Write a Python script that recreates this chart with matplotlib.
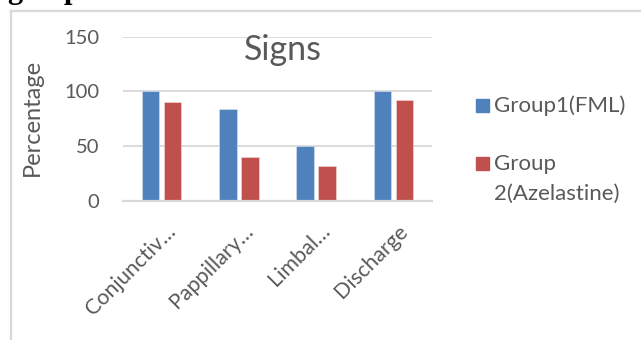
import matplotlib
matplotlib.use("Agg")
import matplotlib.pyplot as plt
from matplotlib.patches import Rectangle
from matplotlib.lines import Line2D
from matplotlib.transforms import ScaledTranslation, blended_transform_factory
import numpy as np

categories = ["Conjunctiv…", "Pappillary…", "Limbal…", "Discharge"]
series_names = ["Group1(FML)", "Group\n2(Azelastine)"]
group1_fml = [100, 84, 50, 100]
group2_azelastine = [90, 40, 32, 92]
colors = ["#4F81BD", "#C0504D"]
y_ticks = [0, 50, 100, 150]
title = "Signs"
y_label = "Percentage"

W, H = 641, 340
FONT = ["Lato", "DejaVu Sans"]
TEXT = "#595959"
GRID = "#D9D9D9"


def fx(px):
    return px / W


def fy(py):
    return 1 - py / H


fig = plt.figure(figsize=(W / 100, H / 100), dpi=100)
fig.patch.set_facecolor("white")

# page heading above the chart frame, cut off by the top edge
fig.text(fx(7), fy(-2), "g", family="Liberation Serif", weight="bold",
         fontsize=22, color="black", va="baseline", ha="left")
fig.text(fx(64), fy(-2), "p", family="Liberation Serif", weight="bold",
         fontsize=22, color="black", va="baseline", ha="left")

# chart frame (left and top borders visible)
fig.add_artist(Line2D([fx(11), fx(11)], [fy(11), fy(H + 5)], color=GRID,
                      lw=1.6, transform=fig.transFigure))
fig.add_artist(Line2D([fx(11), fx(W + 5)], [fy(11), fy(11)], color=GRID,
                      lw=1.6, transform=fig.transFigure))

ax = fig.add_axes([fx(123), fy(201), fx(432) - fx(123), fy(36.5) - fy(201)])
x = np.arange(len(categories))
bw = 0.227
off = 0.1435
ax.bar(x - off, group1_fml, bw, color=colors[0], edgecolor="#dce6f2",
       linewidth=0.4, zorder=3)
ax.bar(x + off, group2_azelastine, bw, color=colors[1], edgecolor="#f2dcdb",
       linewidth=0.4, zorder=3)

ax.set_xlim(-0.5, len(categories) - 0.5)
ax.set_ylim(0, 150)
ax.set_yticks(y_ticks)
ax.set_yticklabels([str(t) for t in y_ticks], family=FONT, fontsize=14.5,
                   color=TEXT)
ax.tick_params(axis="y", length=0, pad=17)
ax.tick_params(axis="x", length=0)
ax.set_xticks(x)
ax.set_xticklabels([])
ax.yaxis.grid(True, color=GRID, lw=1.3, zorder=0)
for s in ["left", "right", "top"]:
    ax.spines[s].set_visible(False)
ax.spines["bottom"].set_color(GRID)
ax.spines["bottom"].set_linewidth(1.6)
ax.spines["bottom"].set_zorder(4)

# rotated category labels
trans = blended_transform_factory(ax.transData, ax.transAxes)
shift = ScaledTranslation(4 / 100, -20 / 100, fig.dpi_scale_trans)
for xi, lab in zip(x, categories):
    ax.text(xi, 0, lab, transform=trans + shift, rotation=45,
            rotation_mode="anchor", ha="right", va="top", family=FONT,
            fontsize=15.5, color=TEXT)

fig.text(fx(32), fy(117), y_label, rotation=90, ha="center", va="center",
         family=FONT, fontsize=17, color=TEXT)
fig.text(fx(282.5), fy(50), title, ha="center", va="center", family=FONT,
         fontsize=24.5, color=TEXT)

# legend: colour square beside the first line of each entry
legend_rows = [112, 170]
line_step = 30
for name, col, base in zip(series_names, colors, legend_rows):
    fig.add_artist(Rectangle((fx(476), fy(base)), fx(13), fy(0) - fy(13),
                             transform=fig.transFigure, color=col))
    for i, line in enumerate(name.split("\n")):
        fig.text(fx(494), fy(base + i * line_step), line, ha="left",
                 va="baseline", family=FONT, fontsize=16, color=TEXT)

fig.savefig("out.png", dpi=100)
